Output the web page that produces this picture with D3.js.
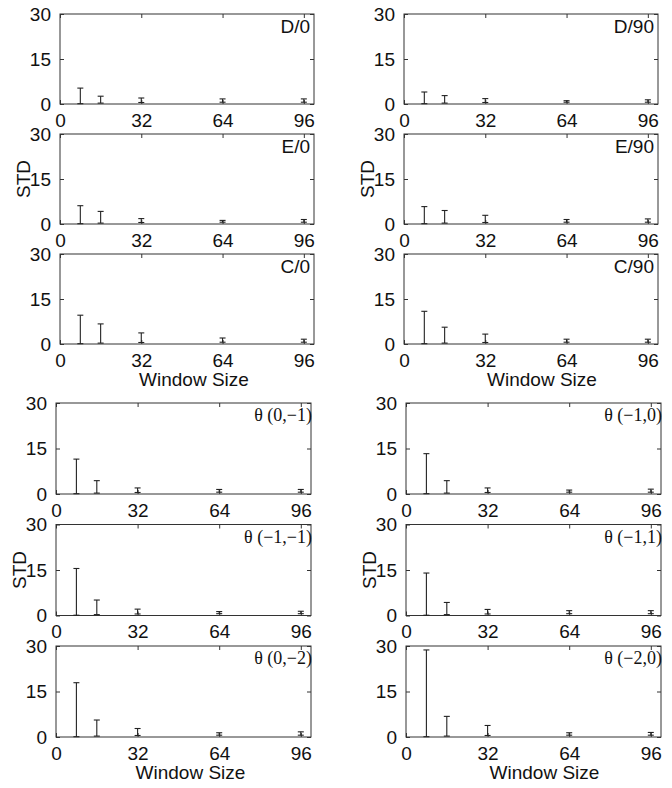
<!DOCTYPE html>
<html><head><meta charset="utf-8">
<script src="https://cdn.jsdelivr.net/npm/d3@7"></script>
<style>
html,body{margin:0;padding:0;background:#fff;}
svg text{font-family:"Liberation Sans",Arial,Helvetica,sans-serif;fill:#111;}
</style></head>
<body><svg id="chart" width="672" height="788"></svg>
<script>
// ---- data ----
const windowSizes = [8, 16, 32, 64, 96];
const xTicks = [0, 32, 64, 96];
const yTicks = [0, 15, 30];
const lowerBound = [0.1, 0.3, 0.5, 0.6, 0.6];

const stdD0   = [5.3, 2.6, 2.0, 1.7, 1.7];
const stdD90  = [4.0, 2.8, 1.8, 1.1, 1.4];
const stdE0   = [6.1, 4.2, 1.8, 1.2, 1.5];
const stdE90  = [5.8, 4.5, 2.9, 1.5, 1.7];
const stdC0   = [9.6, 6.7, 3.7, 2.0, 1.6];
const stdC90  = [10.9, 5.6, 3.3, 1.6, 1.6];
const stdT01  = [11.5, 4.4, 2.0, 1.5, 1.5];
const stdT10  = [13.3, 4.4, 2.0, 1.3, 1.6];
const stdT11  = [15.5, 5.1, 2.1, 1.3, 1.4];
const stdT1p1 = [14.0, 4.3, 2.0, 1.6, 1.6];
const stdT02  = [17.9, 5.6, 2.8, 1.4, 1.7];
const stdT20  = [28.7, 6.8, 3.8, 1.4, 1.5];

const panelLabels = ["D/0","D/90","E/0","E/90","C/0","C/90",
  "\u03B8 (0,\u22121)","\u03B8 (\u22121,0)","\u03B8 (\u22121,\u22121)","\u03B8 (\u22121,1)","\u03B8 (0,\u22122)","\u03B8 (\u22122,0)"];
const panelValues = [stdD0, stdD90, stdE0, stdE90, stdC0, stdC90, stdT01, stdT10, stdT11, stdT1p1, stdT02, stdT20];

// ---- layout ----
const groups = [
  {cols:[60,404], width:254, rows:[14,134,254], height:90, serif:false},
  {cols:[56,406], width:255, rows:[403,524.5,646], height:91, serif:true}
];

const svg = d3.select("#chart");
const lineColor = "#222";

groups.forEach((g, gi) => {
  g.rows.forEach((top, ri) => {
    g.cols.forEach((left, ci) => {
      const idx = gi*6 + ri*2 + ci;
      const vals = panelValues[idx];
      const x = d3.scaleLinear().domain([0,100]).range([left, left+g.width]);
      const y = d3.scaleLinear().domain([0,30]).range([top+g.height, top]);
      const p = svg.append("g");

      // box
      p.append("rect").attr("x", left).attr("y", top).attr("width", g.width).attr("height", g.height)
        .attr("fill","none").attr("stroke","#333").attr("stroke-width",1);

      // axes: bottom/top ticks inward, labels below
      const xb = d3.axisBottom(x).tickValues(xTicks).tickSize(-4).tickPadding(8).tickFormat(d3.format("d"));
      const gx = p.append("g").attr("transform",`translate(0,${top+g.height})`).call(xb);
      const xt = d3.axisTop(x).tickValues(xTicks).tickSize(-4).tickFormat("");
      const gxt = p.append("g").attr("transform",`translate(0,${top})`).call(xt);
      const yl = d3.axisLeft(y).tickValues(yTicks).tickSize(-4).tickPadding(9).tickFormat(d3.format("d"));
      const gy = p.append("g").attr("transform",`translate(${left},0)`).call(yl);
      const yr = d3.axisRight(y).tickValues(yTicks).tickSize(-4).tickFormat("");
      const gyr = p.append("g").attr("transform",`translate(${left+g.width},0)`).call(yr);
      [gx,gxt,gy,gyr].forEach(a => {
        a.select(".domain").remove();
        a.selectAll(".tick line").attr("stroke","#333");
        a.selectAll("text").attr("font-size",19).attr("fill","#111")
          .style("font-family","'Liberation Sans',Arial,sans-serif");
      });
      gx.selectAll("text").attr("dy","0.78em");

      // error bars
      const bars = p.append("g").attr("stroke",lineColor).attr("stroke-width",1.1);
      windowSizes.forEach((w, i) => {
        const cx = x(w), y1 = y(vals[i]), y0 = y(Math.min(lowerBound[i], vals[i]));
        bars.append("line").attr("x1",cx).attr("x2",cx).attr("y1",y0).attr("y2",y1);
        bars.append("line").attr("x1",cx-3).attr("x2",cx+3).attr("y1",y1).attr("y2",y1);
        bars.append("line").attr("x1",cx-3).attr("x2",cx+3).attr("y1",y0).attr("y2",y0);
      });

      // panel label
      if (!g.serif) {
        p.append("text").attr("x", left+g.width-4).attr("y", top+19).attr("text-anchor","end")
          .attr("font-size",19).text(panelLabels[idx]);
      } else {
        p.append("text").attr("x", left+g.width+1).attr("y", top+18).attr("text-anchor","end")
          .attr("font-size",18).style("font-family","'Liberation Serif','Times New Roman',serif")
          .text(panelLabels[idx]);
      }

      // STD label
      if (ri === 1) {
        const lx = left - 37, ly = top + g.height/2;
        p.append("text").attr("transform",`translate(${lx},${ly}) rotate(-90)`)
          .attr("text-anchor","middle").attr("dy","0.35em").attr("font-size",19).text("STD");
      }
      // Window Size label
      if (ri === 2) {
        p.append("text").attr("x", left + g.width/2 + (ci===0?7:11)).attr("y", top+g.height+42)
          .attr("text-anchor","middle").attr("font-size",19).text("Window Size");
      }
    });
  });
});
</script></body></html>
